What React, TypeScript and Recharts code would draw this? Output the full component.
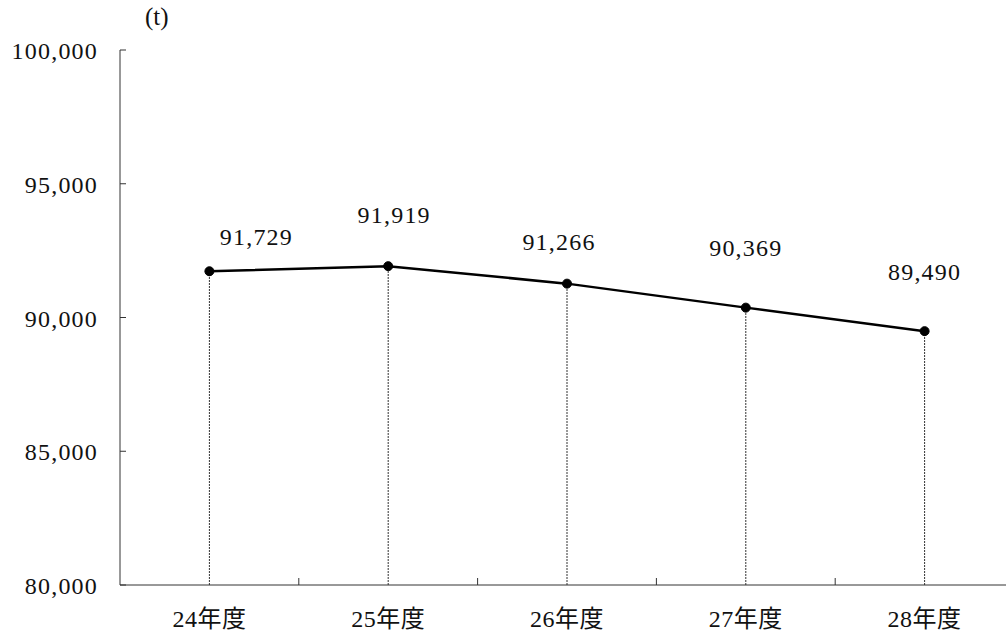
import React from "react";
import {
  LineChart,
  Line,
  XAxis,
  YAxis,
  ReferenceLine,
  LabelList,
} from "recharts";

const years = ["24年度", "25年度", "26年度", "27年度", "28年度"];
const tonnes = [91729, 91919, 91266, 90369, 89490];
const yTicks = [80000, 85000, 90000, 95000, 100000];

// hand placed label offsets (from the point), like the original
const labelShift = [
  [47, -34],
  [6, -51],
  [-8, -42],
  [0, -60],
  [0, -59],
];

const data = years.map((name, i) => ({ name, value: tonnes[i] }));

const FONT = "Liberation Serif, DejaVu Serif, Noto Sans CJK JP, serif";
const fmt = (v: number) => v.toLocaleString("en-US");

const txt = { fontFamily: FONT, fontSize: 24, letterSpacing: 1.2 };

const YTick = (props: any) => {
  const { x, y, payload } = props;
  return (
    <g>
      <line x1={x} x2={x + 6} y1={y} y2={y} stroke="#333" />
      <text x={x - 22} y={y + 9} textAnchor="end" fill="#111" style={txt}>
        {fmt(payload.value)}
      </text>
    </g>
  );
};

const XTick = (props: any) => {
  const { x, y, payload } = props;
  const half = payload.offset || 89.4;
  return (
    <g>
      <line x1={x + half} x2={x + half} y1={y} y2={y - 7} stroke="#333" />
      <text
        x={x}
        y={y + 42}
        textAnchor="middle"
        fill="#111"
        style={{ ...txt, letterSpacing: 0.5 }}
      >
        {payload.value}
      </text>
    </g>
  );
};

const PointLabel = (props: any) => {
  const { x, y, index, value } = props;
  const [dx, dy] = labelShift[index];
  return (
    <text x={x + dx} y={y + dy + 8} textAnchor="middle" fill="#111" style={txt}>
      {fmt(value)}
    </text>
  );
};

export default function App() {
  return (
    <div
      style={{
        position: "absolute",
        left: 0,
        top: 0,
        width: 1006,
        height: 631,
        overflow: "hidden",
        background: "#fff",
      }}
    >
      <div
        style={{
          position: "absolute",
          left: 145,
          top: 3,
          fontFamily: FONT,
          fontSize: 25,
          color: "#111",
        }}
      >
        (t)
      </div>
      <LineChart
        width={1014}
        height={631}
        data={data}
        margin={{ top: 50, right: 0, bottom: 0, left: 0 }}
      >
        <XAxis
          dataKey="name"
          scale="band"
          height={46}
          tickSize={0}
          tickMargin={0}
          tickLine={false}
          axisLine={{ stroke: "#333" }}
          tick={<XTick />}
          interval={0}
        />
        <YAxis
          width={120}
          domain={[80000, 100000]}
          ticks={yTicks}
          tickSize={0}
          tickMargin={0}
          tickLine={false}
          axisLine={{ stroke: "#333" }}
          tick={<YTick />}
          allowDataOverflow
        />
        {data.map((d) => (
          <ReferenceLine
            key={d.name}
            segment={[
              { x: d.name, y: 80000 },
              { x: d.name, y: d.value },
            ]}
            stroke="#333"
            strokeWidth={1}
            strokeDasharray="2 1"
          />
        ))}
        <Line
          dataKey="value"
          stroke="#000"
          strokeWidth={2.5}
          dot={{ r: 4.5, fill: "#000", stroke: "#000", strokeWidth: 1 }}
          isAnimationActive={false}
        >
          <LabelList dataKey="value" content={<PointLabel />} />
        </Line>
      </LineChart>
    </div>
  );
}
